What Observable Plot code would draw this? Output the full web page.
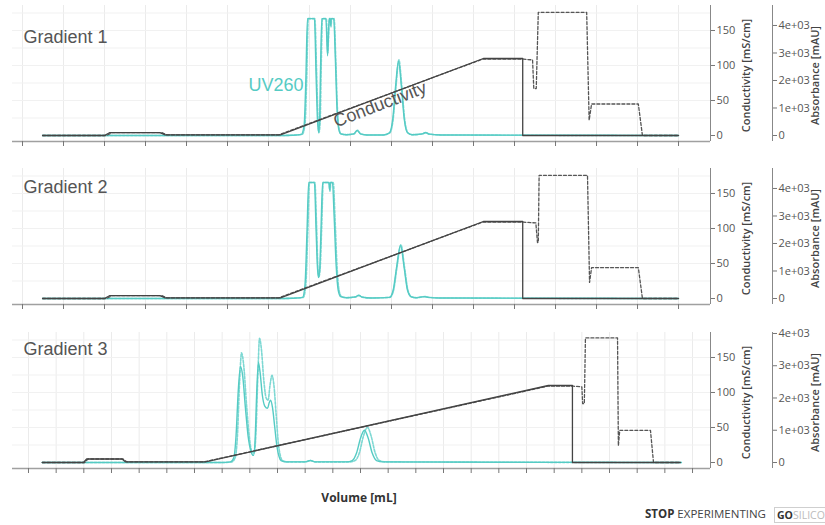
<!DOCTYPE html>
<html><head><meta charset="utf-8">
<script src="https://cdn.jsdelivr.net/npm/d3@7"></script>
<script src="https://cdn.jsdelivr.net/npm/@observablehq/plot@0.6"></script>
<style>
body{margin:0;background:#fff;}
#wrap{position:relative;width:825px;height:525px;overflow:hidden;background:#fff;}
</style></head><body><div id="wrap"></div>
<script>
// ---------- DATA ----------
const panelTitles = ["Gradient 1", "Gradient 2", "Gradient 3"];
const condTicks = [0, 50, 100, 150];
const absTickVals = [0, 1000, 2000, 3000, 4000];
const xTicks12 = d3.range(0, 161, 10);
const xTicks3 = d3.range(0, 241, 10);

// Gradient 1 : [volume mL, conductivity mS/cm]
const g1CondSolid = [[4.9,0],[20,0],[21.2,4],[33.5,4],[34.8,1],[62.9,1],[112.4,110],[122,110],[122,0],[160,0]];
const g1CondDash = [[4.9,0],[20.5,0],[21.8,4],[34,4],[35.2,1],[62.5,1],[112.2,109],[122.2,109],[124.4,108],[124.7,67],[125.3,67],[125.8,176],[137.6,176],[138.2,22],[138.8,45],[150.2,45],[151.2,0],[160,0]];
// Gradient 1 : [volume mL, UV260 mAU]
const g1UvSolid = [[4.9,0],[62,0],[66,10],[68,40],[68.7,400],[69.1,2000],[69.5,4250],[71.2,4250],[71.6,2200],[71.9,700],[72.2,120],[72.45,500],[72.7,2500],[73.0,4250],[74.0,4250],[74.4,2900],[74.8,4250],[75.0,4250],[75.15,4000],[75.3,4250],[75.9,4250],[76.3,2800],[76.7,1000],[77.1,250],[77.6,60],[79,30],[80.8,60],[81.6,180],[82.4,60],[84,20],[88,20],[89.5,100],[90.3,600],[91,1800],[91.7,2700],[92.4,1800],[93.1,600],[93.9,100],[95,30],[97.5,60],[98.3,110],[99.2,50],[102,20],[160,0]];
const g1UvDash = [[4.9,0],[62,0],[66,10],[68.2,40],[68.9,400],[69.3,2000],[69.7,4250],[71.3,4250],[71.75,2200],[72.05,700],[72.3,100],[72.6,500],[72.85,2500],[73.15,4250],[74.1,4250],[74.45,3000],[74.85,4250],[75.1,4250],[75.25,3950],[75.4,4250],[76.0,4250],[76.4,2800],[76.8,1000],[77.2,250],[77.7,60],[79,30],[80.9,60],[81.7,190],[82.5,60],[84,20],[88,20],[89.6,100],[90.4,600],[91.1,1800],[91.8,2750],[92.5,1800],[93.2,600],[94,100],[95,30],[97.6,60],[98.4,100],[99.3,50],[102,20],[160,0]];

// Gradient 2
const g2CondSolid = [[4.9,0],[20,0],[21.2,4],[33.5,4],[34.8,1],[62.9,1],[112.4,110],[122,110],[122,0],[160,0]];
const g2CondDash = [[4.9,0],[20.5,0],[21.8,4],[34,4],[35.2,1],[62.5,1],[112.2,109],[122.2,109],[125.2,108],[125.6,80],[125.8,80],[126,176],[137.8,176],[138.3,23],[138.8,44],[150.2,44],[151.2,0],[160,0]];
const g2UvSolid = [[4.9,0],[62,0],[66,10],[68.3,40],[68.9,500],[69.4,2500],[69.8,4220],[71.2,4220],[71.6,2500],[71.95,1100],[72.2,760],[72.5,1100],[72.8,2500],[73.2,4220],[74.7,4220],[74.9,3950],[75.1,4220],[75.6,4220],[76.0,3000],[76.5,1200],[77.0,300],[77.6,70],[79,30],[81.2,60],[82,120],[82.8,50],[85,20],[89.5,40],[90.4,300],[91.2,1100],[92.2,1930],[93.1,1100],[93.9,300],[94.8,60],[96,30],[98,70],[99,40],[102,20],[160,0]];
const g2UvDash = [[4.9,0],[62,0],[66,10],[68.5,40],[69.1,500],[69.6,2500],[70.0,4220],[71.3,4220],[71.75,2500],[72.05,1100],[72.3,800],[72.6,1100],[72.95,2500],[73.35,4220],[74.8,4220],[75.0,3900],[75.2,4220],[75.8,4220],[76.2,3000],[76.7,1200],[77.2,300],[77.8,70],[79,30],[81.3,60],[82.1,110],[82.9,50],[85,20],[89.6,40],[90.5,300],[91.3,1100],[92.3,1950],[93.2,1100],[94,300],[94.9,60],[96,30],[98.1,70],[99.1,40],[102,20],[160,0]];

// Gradient 3
const g3CondSolid = [[5,0],[19.9,0],[21,5],[33.8,5],[35,1],[64,1],[187.9,110],[196.6,110],[196.6,0],[235.6,0]];
const g3CondDash = [[5,0],[20.3,0],[21.5,5],[34.2,5],[35.5,1],[63.6,1],[187.6,109],[197,109],[200,108],[200.3,84],[200.9,84],[201.3,178],[212.9,178],[213.2,24],[213.7,46],[224.8,46],[225.9,0],[235.6,0]];
const g3UvSolid = [[5,0],[70,0],[73,20],[74.2,150],[75,800],[75.8,2200],[76.6,2970],[77.4,2700],[78.4,1700],[79.4,800],[80.4,350],[81.3,220],[81.9,700],[82.5,2200],[83.1,3100],[83.7,2800],[84.5,2100],[85.4,1750],[86.4,1680],[87.0,1850],[87.5,1930],[88.2,1700],[89.0,1100],[89.8,500],[90.5,200],[91.3,60],[93,20],[100,20],[101.9,60],[103.5,20],[115,20],[117,60],[118.6,300],[120,750],[121.4,1000],[122.8,750],[124.2,300],[125.8,60],[128,20],[236,0]];
const g3UvDash = [[5,0],[70,0],[73.5,20],[74.7,150],[75.5,800],[76.3,2500],[77.0,3400],[77.8,3000],[78.8,1800],[79.8,800],[80.7,350],[81.6,300],[82.2,900],[82.9,2700],[83.5,3850],[84.2,3500],[85.0,2600],[85.9,2000],[86.6,1930],[87.3,2400],[88.0,2700],[88.7,2400],[89.5,1500],[90.3,600],[91.0,220],[91.8,60],[93.5,20],[100,20],[102,60],[103.6,20],[116,20],[118,60],[119.6,300],[121,800],[122.5,1090],[123.9,800],[125.3,300],[126.8,60],[129,20],[236,0]];

// ---------- STYLE ----------
const TEAL = "#55cbc4";
const TEAL_D = "#7dd8d3";
const yDom = [-8.57, 185.7];
const condGrid = [25, 50, 75, 100, 125, 150, 175];

function makePanel(p) {
  const k = p.k;
  const absPos = absTickVals.map(a => a * k);
  const fmtAbs = d => { const a = Math.round(d / k / 1000); return a === 0 ? "0" : a + "e+03"; };
  const X = d => d[0];
  return Plot.plot({
    width: 825, height: 160,
    marginLeft: 12, marginRight: 115, marginTop: 5, marginBottom: 19,
    x: {domain: p.xDomain, axis: null, label: null},
    y: {domain: yDom, axis: null, label: null},
    style: {background: "transparent", fontFamily: "'Open Sans', sans-serif", fontSize: "11px", color: "#555", overflow: "visible"},
    marks: [
      Plot.gridX(p.xTicks, {stroke: "#ebebeb", strokeOpacity: 1}),
      Plot.gridY(condGrid, {stroke: "#f1f1f1", strokeOpacity: 1}),
      Plot.line(p.uvD, {x: X, y: d => d[1] * k, stroke: TEAL_D, strokeWidth: 1.6, strokeDasharray: "2.5,1.5", curve: "monotone-x"}),
      Plot.line(p.uv, {x: X, y: d => d[1] * k, stroke: TEAL, strokeWidth: 1.4, curve: "monotone-x"}),
      Plot.line(p.condD, {x: X, y: d => d[1], stroke: "#555", strokeWidth: 1.3, strokeDasharray: "3,2"}),
      Plot.line(p.cond, {x: X, y: d => d[1], stroke: "#444", strokeWidth: 1.3}),
      Plot.ruleY([yDom[0]], {stroke: "#a0a0a0", strokeWidth: 1.5}),
      Plot.axisX(p.xTicks, {anchor: "bottom", tickSize: 5, fill: "none", stroke: "#777"}),
      Plot.ruleX([p.xDomain[1]], {stroke: "#888"}),
      Plot.axisY(condTicks, {anchor: "right", tickSize: 4, tickPadding: 2, stroke: "#777", fill: "#555", tickFormat: d => String(d), label: null}),
      Plot.ruleX([p.xDomain[1]], {dx: 62, stroke: "#888"}),
      Plot.axisY(absPos, {anchor: "right", dx: 62, tickSize: 4, tickPadding: 2, stroke: "#777", fill: "#555", tickFormat: fmtAbs, label: null}),
      Plot.text(["Conductivity [mS/cm]"], {text: d => d, frameAnchor: "right", textAnchor: "middle", lineAnchor: "middle", dx: 36, dy: 2, rotate: -90, fontWeight: 600, fill: "#444", fontSize: 11}),
      Plot.text(["Absorbance [mAU]"], {text: d => d, frameAnchor: "right", textAnchor: "middle", lineAnchor: "middle", dx: 105, dy: 2, rotate: -90, fontWeight: 600, fill: "#444", fontSize: 11}),
      Plot.text([p.title], {text: d => d, frameAnchor: "top-left", dx: 11, dy: p.titleDy, lineAnchor: "top", textAnchor: "start", fontSize: 18, fill: "#555", fontFamily: "'Liberation Sans', Arial, sans-serif"}),
      ...(p.extra || [])
    ]
  });
}

const k12 = 0.03929, k3 = 0.04607;
const panels = [
  {top: 0, k: k12, xDomain: [-2.44, 167.8], xTicks: xTicks12, cond: g1CondSolid, condD: g1CondDash, uv: g1UvSolid, uvD: g1UvDash, title: panelTitles[0], titleDy: 25,
   extra: [
     Plot.text(["UV260"], {text: d => d, x: () => 55.1, y: () => 71.4, textAnchor: "start", fontSize: 18, fill: TEAL, fontFamily: "'Liberation Sans', Arial, sans-serif"}),
     Plot.text(["Conductivity"], {text: d => d, x: () => 87.2, y: () => 44.3, rotate: -21, fontSize: 18, fill: "#555", fontFamily: "'Liberation Sans', Arial, sans-serif"})
   ]},
  {top: 163, k: k12, xDomain: [-2.44, 167.8], xTicks: xTicks12, cond: g2CondSolid, condD: g2CondDash, uv: g2UvSolid, uvD: g2UvDash, title: panelTitles[1], titleDy: 12},
  {top: 327, k: k3, xDomain: [-5.78, 246.5], xTicks: xTicks3, cond: g3CondSolid, condD: g3CondDash, uv: g3UvSolid, uvD: g3UvDash, title: panelTitles[2], titleDy: 10}
];

const wrap = document.getElementById("wrap");
for (const p of panels) {
  const el = makePanel(p);
  el.style.position = "absolute";
  el.style.left = "0px";
  el.style.top = p.top + "px";
  wrap.appendChild(el);
}

// caption (below the charts)
const cap = d3.select(wrap).append("svg")
  .attr("width", 825).attr("height", 40)
  .style("position", "absolute").style("left", "0px").style("top", "485px")
  .style("font-family", "'Open Sans', sans-serif");
cap.append("text").attr("x", 359).attr("y", 17).attr("text-anchor", "middle")
  .attr("font-size", 12).attr("font-weight", 700).attr("fill", "#333").text("Volume [mL]");
const brand = cap.append("text").attr("x", 645).attr("y", 33).attr("font-size", 11.5).attr("fill", "#333");
brand.append("tspan").attr("font-weight", 700).text("STOP");
brand.append("tspan").attr("fill", "#444").text(" EXPERIMENTING");
cap.append("rect").attr("x", 774.5).attr("y", 22.5).attr("width", 60).attr("height", 15)
  .attr("fill", "none").attr("stroke", "#cfcfcf");
const go = cap.append("text").attr("x", 777).attr("y", 33.5).attr("font-size", 10.5);
go.append("tspan").attr("font-weight", 700).attr("fill", "#333").text("GO");
go.append("tspan").attr("fill", "#bbb").text("SILICO");
</script>
</body></html>
